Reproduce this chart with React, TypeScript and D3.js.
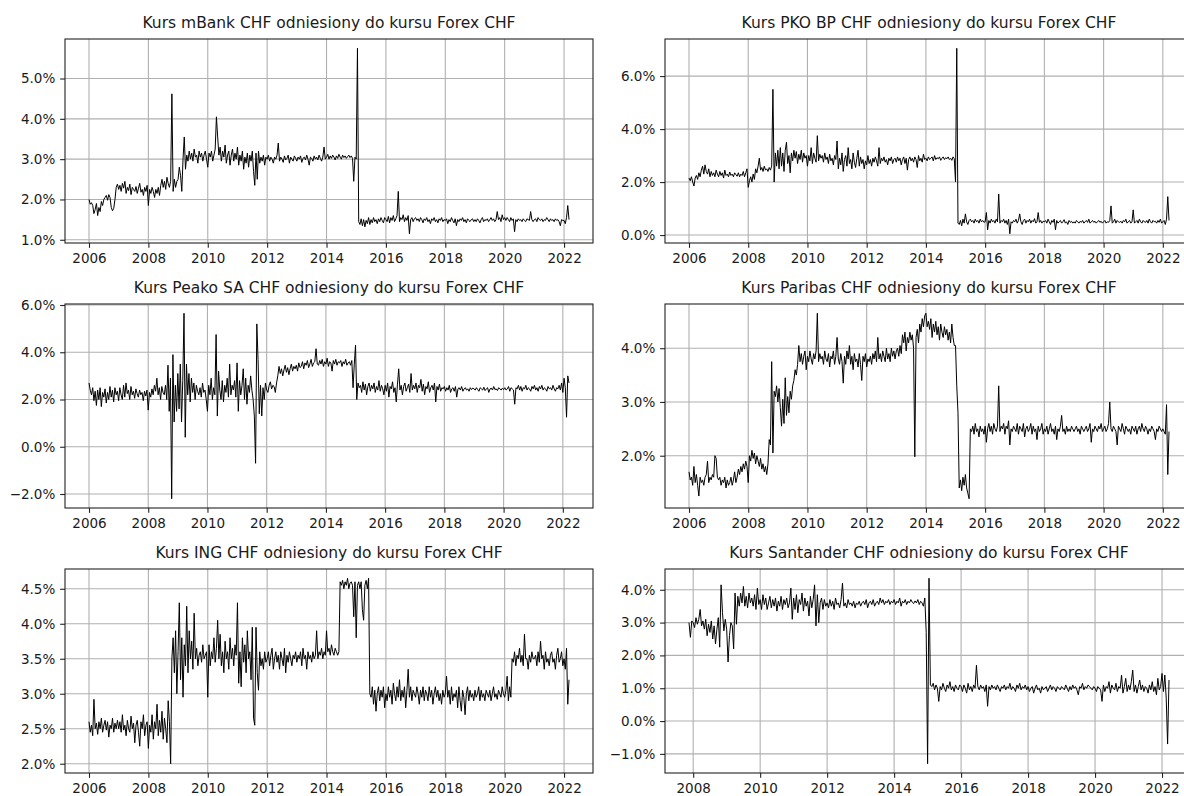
import * as d3 from 'd3';
import { useEffect, useRef } from 'react';

// all series are sampled twice a month (24 points per year)
const STEP = 1 / 24;

const mbankStart = 2006;
const mbankValues = [
  2.0, 1.88, 1.92, 1.85, 1.65, 1.75, 1.9, 1.6, 1.8, 1.7, 1.95, 1.85, 2.0, 2.05, 2.1, 1.98, 2.12, 2.05, 1.8, 1.72, 1.78, 2.0, 2.3, 2.38,
  2.25, 2.35, 2.2, 2.4, 2.28, 2.45, 2.15, 2.3, 2.22, 2.38, 2.12, 2.3, 2.25, 2.2, 2.32, 2.15, 2.28, 2.4, 2.18, 2.25, 2.1, 2.3, 2.2, 2.35,
  1.85, 2.25, 2.15, 2.3, 2.2, 2.05, 2.25, 2.15, 2.3, 2.1, 2.35, 2.5, 2.3, 2.45, 2.25, 2.55, 2.4, 2.3, 2.45, 4.62, 2.2, 2.5, 2.3, 2.45,
  2.5, 2.8, 2.6, 2.2, 3.0, 3.55, 2.75, 3.1, 2.95, 3.2, 3.0, 3.15, 2.95, 3.25, 3.05, 3.1, 2.9, 3.2, 3.05, 3.15, 2.95, 3.1, 3.2, 3.0,
  2.8, 3.15, 3.05, 3.2, 2.95, 3.1, 3.25, 4.05, 3.55, 3.1, 3.3, 2.95, 3.2, 3.05, 3.35, 2.9, 3.1, 3.2, 2.85, 3.1, 3.25, 2.95, 3.15, 3.0,
  3.3, 2.85, 3.1, 2.95, 3.2, 2.75, 3.05, 2.9, 3.15, 2.8, 3.1, 2.95, 3.2, 2.7, 2.35, 3.15, 2.5, 3.2, 2.9, 3.05, 2.95, 3.1, 2.85, 3.05,
  3.0, 3.1, 2.95, 3.05, 3.0, 2.9, 3.05, 3.0, 3.1, 3.4, 2.95, 3.05, 3.0, 2.92, 3.08, 2.98, 3.02, 3.1, 2.9, 3.05, 3.0, 2.95, 3.08, 3.02,
  2.95, 3.05, 3.0, 3.08, 2.92, 3.02, 3.05, 2.98, 3.1, 3.0, 2.85, 3.05, 3.02, 2.95, 3.08, 3.0, 3.05, 2.98, 3.1, 3.02, 2.95, 3.05, 3.3, 3.0,
  3.05, 3.12, 3.0, 3.08, 3.02, 3.1, 3.05, 2.98, 3.08, 3.02, 3.12, 3.05, 3.0, 3.1, 3.04, 3.08, 3.02, 3.06, 3.1, 3.04, 3.08, 3.02, 2.45, 3.05,
  3.0, 5.75, 1.45, 1.38, 1.52, 1.35, 1.5, 1.32, 1.48, 1.4, 1.55, 1.38, 1.5, 1.42, 1.55, 1.45, 1.5, 1.4, 1.52, 1.45, 1.55, 1.48, 1.42, 1.55,
  1.5, 1.45, 1.58, 1.42, 1.55, 1.48, 1.6, 1.45, 1.52, 1.6, 2.2, 1.45, 1.55, 1.5, 1.62, 1.45, 1.55, 1.48, 1.6, 1.15, 1.5, 1.55, 1.45, 1.52,
  1.55, 1.48, 1.52, 1.45, 1.55, 1.5, 1.42, 1.52, 1.48, 1.55, 1.45, 1.5, 1.4, 1.52, 1.48, 1.55, 1.45, 1.5, 1.42, 1.52, 1.48, 1.55, 1.45, 1.5,
  1.48, 1.52, 1.4, 1.5, 1.45, 1.55, 1.48, 1.42, 1.52, 1.35, 1.5, 1.45, 1.52, 1.48, 1.55, 1.45, 1.5, 1.42, 1.52, 1.48, 1.45, 1.5, 1.52, 1.45,
  1.5, 1.45, 1.52, 1.48, 1.42, 1.5, 1.55, 1.45, 1.5, 1.48, 1.52, 1.45, 1.5, 1.55, 1.48, 1.52, 1.45, 1.5, 1.7, 1.5, 1.55, 1.45, 1.62, 1.5,
  1.55, 1.48, 1.55, 1.5, 1.45, 1.55, 1.48, 1.52, 1.2, 1.5, 1.45, 1.52, 1.48, 1.5, 1.45, 1.52, 1.48, 1.45, 1.52, 1.5, 1.48, 1.7, 1.5, 1.45,
  1.5, 1.52, 1.45, 1.55, 1.5, 1.48, 1.52, 1.45, 1.5, 1.48, 1.55, 1.5, 1.45, 1.52, 1.48, 1.5, 1.45, 1.52, 1.48, 1.5, 1.45, 1.35, 1.5, 1.48,
  1.48, 1.4, 1.55, 1.85, 1.5,
];

const pkoStart = 2006;
const pkoValues = [
  2.15, 2.05, 2.2, 2.0, 1.85, 2.15, 2.25, 2.1, 2.35, 2.2, 2.45, 2.6, 2.3, 2.65, 2.4, 2.3, 2.5, 2.2, 2.4, 2.25, 2.35, 2.2, 2.45, 2.3,
  2.2, 2.4, 2.25, 2.35, 2.15, 2.45, 2.25, 2.3, 2.2, 2.38, 2.25, 2.3, 2.2, 2.35, 2.28, 2.22, 2.35, 2.2, 2.3, 2.25, 2.4, 2.2, 2.35, 2.5,
  1.8, 2.05, 2.2, 2.0, 2.3, 2.1, 2.5, 2.35, 2.6, 2.9, 2.45, 2.55, 2.4, 2.6, 2.45, 2.5, 2.4, 2.55, 2.45, 2.6, 5.5, 2.0, 3.1, 2.6,
  3.2, 2.5, 3.3, 2.6, 3.1, 2.4, 3.2, 3.5, 2.7, 3.0, 2.35, 3.1, 2.8, 3.2, 2.9, 3.15, 2.7, 3.05, 2.85, 3.2, 2.75, 3.1, 2.9, 3.0,
  2.6, 3.0, 2.8, 3.3, 2.7, 3.1, 2.9, 2.75, 3.75, 2.8, 3.05, 2.9, 3.0, 2.75, 3.1, 2.85, 2.95, 2.7, 3.05, 2.8, 2.9, 2.65, 3.0, 2.85,
  3.55, 2.5, 2.9, 2.65, 3.1, 2.4, 2.85, 3.0, 2.6, 3.3, 2.7, 2.85, 2.5, 3.1, 2.75, 2.55, 2.9, 3.2, 2.6, 2.95, 2.7, 2.85, 2.5, 2.8,
  2.65, 3.0, 2.7, 2.85, 2.6, 2.9, 2.75, 2.95, 2.8, 2.6, 3.3, 2.7, 2.9, 2.8, 2.95, 2.75, 2.85, 2.65, 2.9, 2.8, 2.95, 2.7, 2.85, 2.9,
  2.75, 2.95, 2.8, 2.9, 2.65, 2.85, 2.95, 2.7, 2.9, 2.45, 2.85, 2.95, 2.8, 2.9, 2.75, 2.95, 2.85, 2.55, 3.0, 2.8, 2.9, 2.75, 3.05, 2.85,
  2.9, 2.8, 2.95, 2.85, 2.9, 2.95, 2.8, 3.0, 2.85, 2.92, 2.88, 2.95, 2.82, 2.9, 2.95, 2.85, 2.92, 2.88, 2.95, 2.85, 2.9, 2.82, 2.95, 2.88,
  2.0, 7.05, 0.45, 0.4, 0.55, 0.35, 0.6, 0.45, 0.8, 0.5, 0.4, 0.55, 0.6, 0.5, 0.55, 0.45, 0.6, 0.5, 0.55, 0.45, 0.6, 0.5, 0.55, 0.48,
  0.5, 0.85, 0.2, 0.55, 0.45, 0.6, 0.5, 0.55, 0.45, 0.6, 0.5, 1.55, 0.45, 0.55, 0.5, 0.6, 0.45, 0.55, 0.4, 0.6, 0.05, 0.5, 0.45, 0.55,
  0.5, 0.6, 0.45, 0.55, 0.8, 0.5, 0.4, 0.55, 0.6, 0.45, 0.55, 0.5, 0.6, 0.45, 0.55, 0.5, 0.62, 0.45, 0.5, 0.85, 0.48, 0.55, 0.45, 0.52,
  0.5, 0.55, 0.45, 0.6, 0.5, 0.4, 0.55, 0.48, 0.6, 0.2, 0.55, 0.45, 0.5, 0.55, 0.45, 0.5, 0.58, 0.45, 0.5, 0.4, 0.55, 0.48, 0.52, 0.45,
  0.5, 0.45, 0.55, 0.5, 0.45, 0.52, 0.48, 0.55, 0.45, 0.5, 0.55, 0.48, 0.6, 0.45, 0.5, 0.55, 0.48, 0.52, 0.45, 0.5, 0.55, 0.48, 0.52, 0.45,
  0.5, 0.55, 0.45, 0.5, 0.48, 0.55, 1.1, 0.45, 0.5, 0.6, 0.45, 0.55, 0.5, 0.48, 0.52, 0.45, 0.55, 0.5, 0.6, 0.45, 0.5, 0.55, 0.45, 0.5,
  0.95, 0.45, 0.5, 0.55, 0.45, 0.6, 0.5, 0.45, 0.55, 0.5, 0.48, 0.55, 0.45, 0.6, 0.5, 0.45, 0.55, 0.5, 0.52, 0.45, 0.55, 0.48, 0.6, 0.45,
  0.5, 0.55, 0.4, 0.6, 1.45, 0.55,
];

const peakoStart = 2006;
const peakoValues = [
  2.7, 2.4, 2.2, 2.5, 1.95, 2.35, 1.75, 2.4, 2.0, 2.5, 1.7, 2.3, 2.1, 2.45, 1.85, 2.3, 2.0, 2.55, 2.1, 2.4, 1.9, 2.5, 2.2, 2.35,
  1.95, 2.5, 2.2, 2.0, 2.6, 2.1, 2.7, 2.25, 2.4, 2.0, 2.55, 2.2, 2.35, 2.05, 2.45, 2.25, 2.1, 2.4, 2.2, 2.3, 1.95, 2.35, 2.15, 2.4,
  1.55, 2.3, 2.1, 2.45, 2.2, 2.6, 2.35, 2.9, 2.2, 2.5, 2.0, 2.55, 2.3, 2.2, 2.6, 2.0, 3.45, 1.5, 2.9, -2.2, 3.9, 1.05, 2.6, 1.5,
  3.1, 1.6, 3.5, 1.05, 2.8, 5.65, 0.4, 3.5, 2.2, 3.1, 1.9, 2.9, 2.3, 2.7, 2.0, 2.6, 2.35, 2.2, 2.5, 2.1, 2.7, 2.3, 2.4, 2.0,
  1.5, 2.6, 2.2, 2.9, 2.0, 2.5, 2.2, 4.75, 1.3, 3.2, 2.4, 2.0, 2.8, 1.9, 2.6, 2.3, 2.9, 2.1, 3.5, 2.2, 2.6, 2.4, 2.8, 2.1,
  3.55, 1.5, 2.8, 2.2, 2.6, 3.3, 2.0, 2.9, 1.8, 2.6, 2.3, 3.0, 2.4, 2.0, 1.3, -0.7, 5.2, 3.7, 1.4, 2.6, 1.3, 2.5, 2.0, 2.7,
  2.4, 2.3, 2.6, 2.75, 2.45, 2.6, 2.55, 2.3, 2.7, 3.0, 3.4, 3.1, 3.3, 3.0, 3.25, 3.45, 3.15, 3.35, 3.05, 3.3, 3.5, 3.2, 3.4, 3.3,
  3.45, 3.2, 3.55, 3.35, 3.4, 3.6, 3.3, 3.55, 3.45, 3.65, 3.35, 3.5, 3.7, 3.4, 3.55, 3.6, 4.15, 3.5, 3.45, 3.65, 3.5, 3.7, 3.4, 3.6,
  3.5, 3.75, 3.4, 3.6, 3.55, 3.2, 3.65, 3.5, 3.7, 3.45, 3.6, 3.55, 3.65, 3.4, 3.6, 3.5, 3.7, 3.45, 3.55, 3.6, 3.45, 3.65, 2.5, 3.5,
  4.3, 2.0, 2.7, 2.5, 2.6, 2.3, 2.75, 2.4, 2.65, 2.2, 2.55, 2.7, 2.35, 2.6, 2.45, 2.7, 2.3, 2.55, 2.4, 2.8, 2.35, 2.6, 2.45, 2.2,
  2.6, 2.35, 2.7, 2.1, 2.55, 2.45, 2.75, 2.3, 2.5, 1.9, 2.65, 3.3, 2.4, 2.6, 2.2, 2.55, 2.7, 2.35, 2.5, 2.65, 2.3, 3.1, 2.4, 2.6,
  2.45, 2.7, 2.3, 2.6, 2.5, 2.85, 2.35, 2.65, 2.2, 2.55, 2.45, 2.75, 2.3, 2.5, 2.6, 2.4, 2.7, 1.9, 2.55, 2.4, 2.65, 2.35, 2.5, 2.45,
  2.55, 2.35, 2.5, 2.4, 2.6, 2.3, 2.45, 2.5, 2.35, 2.55, 2.1, 2.45, 2.5, 2.4, 2.55, 2.35, 2.45, 2.5, 2.4, 2.45, 2.35, 2.5, 2.42, 2.48,
  2.45, 2.4, 2.5, 2.42, 2.35, 2.5, 2.45, 2.4, 2.52, 2.38, 2.45, 2.5, 2.3, 2.45, 2.48, 2.4, 2.55, 2.42, 2.45, 2.38, 2.5, 2.45, 2.4, 2.48,
  2.42, 2.5, 2.4, 2.45, 2.55, 2.35, 2.5, 2.45, 2.4, 1.8, 2.5, 2.45, 2.6, 2.4, 2.55, 2.35, 2.5, 2.45, 2.6, 2.4, 2.5, 2.45, 2.35, 2.55,
  2.45, 2.6, 2.4, 2.5, 2.35, 2.55, 2.45, 2.6, 2.4, 2.5, 2.45, 2.35, 2.55, 2.45, 2.5, 2.4, 2.6, 2.45, 2.35, 2.5, 2.45, 2.6, 2.4, 2.7,
  2.3, 2.9, 2.5, 1.25, 3.0, 2.7,
];

const paribasStart = 2006;
const paribasValues = [
  1.7, 1.55, 1.6, 1.45, 1.8, 1.5, 1.65, 1.45, 1.25, 1.6, 1.5, 1.55, 1.45, 1.6, 1.65, 1.9, 1.5, 1.6, 1.55, 1.65, 1.6, 2.0, 1.95, 1.6,
  1.55, 1.6, 1.45, 1.55, 1.5, 1.6, 1.4, 1.55, 1.45, 1.5, 1.6, 1.45, 1.55, 1.7, 1.5, 1.6, 1.75, 1.65, 1.8, 1.7, 1.85, 1.75, 1.9, 1.8,
  1.5, 2.0, 1.9, 2.1, 1.95, 2.05, 1.85, 2.0, 1.9, 1.8, 1.95, 1.75, 1.85, 1.7, 1.8, 1.65, 1.85, 2.3, 2.2, 3.75, 2.05, 3.2, 3.1, 3.3,
  3.0, 3.25, 2.9, 2.55, 3.05, 2.6, 3.45, 2.75, 3.1, 2.8, 3.2, 3.05, 3.3, 3.4, 3.6, 3.5, 3.7, 4.05, 3.75, 3.9, 3.7, 3.85, 3.95, 3.6,
  3.85, 3.75, 3.95, 3.8, 3.7, 3.9, 3.8, 3.95, 4.65, 3.75, 3.9, 3.8, 3.85, 3.7, 3.95, 3.8, 3.75, 3.9, 3.65, 3.85, 3.8, 3.95, 3.7, 3.85,
  4.2, 3.8, 3.7, 3.9, 3.75, 3.35, 3.85, 3.7, 3.95, 3.8, 4.05, 3.7, 3.85, 3.6, 3.9, 3.75, 3.8, 3.65, 3.9, 3.7, 3.4, 3.85, 3.75, 3.9,
  3.65, 3.8, 3.75, 3.85, 3.7, 3.9, 3.8, 3.95, 3.75, 4.2, 3.8, 3.9, 3.75, 3.95, 3.85, 3.75, 4.0, 3.8, 3.9, 3.75, 4.0, 3.85, 3.95, 3.8,
  3.95, 4.0, 3.85, 4.05, 3.9, 4.25, 4.1, 4.3, 3.95, 4.2, 4.1, 4.3, 4.15, 4.25, 4.0, 1.98, 4.2, 4.35, 4.1, 4.45, 4.3, 4.55, 4.4, 4.6,
  4.65, 4.4, 4.5, 4.35, 4.55, 4.2, 4.45, 4.3, 4.5, 4.25, 4.4, 4.15, 4.45, 4.3, 4.2, 4.4, 4.25, 4.35, 4.15, 4.3, 4.1, 4.45, 4.2, 4.05,
  4.05, 3.3, 2.8, 1.4, 1.55, 1.35, 1.6, 1.45, 1.65, 1.4, 1.3, 1.2, 2.5, 2.45, 2.55, 2.4, 2.6, 2.45, 2.5, 2.35, 2.55, 2.45, 2.5, 2.4,
  2.55, 2.25, 2.5, 2.6, 2.45, 2.55, 2.4, 2.6, 2.5, 2.45, 2.55, 3.3, 2.45, 2.55, 2.5, 2.6, 2.4, 2.55, 2.5, 2.65, 2.2, 2.5, 2.45, 2.55,
  2.5, 2.45, 2.6, 2.4, 2.55, 2.5, 2.45, 2.6, 2.35, 2.5, 2.55, 2.45, 2.5, 2.6, 2.4, 2.55, 2.45, 2.5, 2.3, 2.55, 2.45, 2.5, 2.6, 2.4,
  2.5, 2.45, 2.55, 2.4, 2.5, 2.6, 2.45, 2.5, 2.4, 2.55, 2.3, 2.5, 2.45, 2.55, 2.75, 2.45, 2.5, 2.4, 2.55, 2.45, 2.5, 2.45, 2.55, 2.5,
  2.45, 2.5, 2.55, 2.45, 2.5, 2.4, 2.55, 2.5, 2.45, 2.5, 2.55, 2.45, 2.5, 2.6, 2.25, 2.5, 2.45, 2.55, 2.5, 2.45, 2.55, 2.5, 2.6, 2.45,
  2.5, 2.55, 2.45, 2.5, 2.6, 3.0, 2.5, 2.45, 2.55, 2.5, 2.45, 2.2, 2.55, 2.5, 2.45, 2.6, 2.5, 2.4, 2.55, 2.5, 2.45, 2.5, 2.4, 2.55,
  2.5, 2.45, 2.55, 2.4, 2.5, 2.55, 2.45, 2.6, 2.5, 2.45, 2.55, 2.5, 2.4, 2.5, 2.45, 2.55, 2.5, 2.45, 2.3, 2.5, 2.45, 2.55, 2.5, 2.45,
  2.5, 2.45, 2.4, 2.95, 1.65, 2.45,
];

const ingStart = 2006;
const ingValues = [
  2.6, 2.45, 2.55, 2.4, 2.92, 2.5, 2.58, 2.42, 2.6, 2.5, 2.65, 2.45, 2.55, 2.62, 2.48, 2.6, 2.38, 2.55, 2.5, 2.65, 2.45, 2.58, 2.5, 2.62,
  2.5, 2.6, 2.45, 2.7, 2.48, 2.55, 2.4, 2.62, 2.5, 2.45, 2.68, 2.5, 2.58, 2.3, 2.55, 2.62, 2.45, 2.25, 2.6, 2.5, 2.7, 2.4, 2.55, 2.6,
  2.22, 2.55, 2.45, 2.7, 2.35, 2.6, 2.5, 2.85, 2.4, 2.62, 2.45, 2.75, 2.35, 2.65, 2.5, 2.3, 2.9, 2.6, 2.0, 3.5, 3.8, 3.3, 3.9, 3.0,
  3.6, 4.3, 3.2, 3.8, 2.95, 3.7, 3.4, 4.25, 3.3, 3.9, 3.5, 3.75, 3.35, 4.15, 3.5, 3.65, 3.4, 3.55, 3.6, 3.45, 3.7, 3.5, 3.55, 3.6,
  2.95, 3.7, 3.4, 3.6, 3.5, 3.8, 3.45, 3.65, 4.05, 3.5, 3.85, 3.4, 3.6, 3.3, 3.75, 3.5, 3.6, 3.35, 3.8, 3.5, 3.65, 3.4, 3.7, 3.55,
  4.3, 3.15, 3.6, 3.1, 3.8, 3.45, 3.7, 3.3, 3.9, 3.5, 3.6, 3.2, 3.95, 2.65, 2.55, 3.95, 3.3, 3.05, 3.6, 3.4, 3.5, 3.35, 3.6, 3.45,
  3.5, 3.6, 3.4, 3.55, 3.65, 3.35, 3.5, 3.6, 3.45, 3.55, 3.35, 3.6, 3.5, 3.4, 3.65, 3.3, 3.55, 3.45, 3.6, 3.5, 3.4, 3.55, 3.5, 3.6,
  3.45, 3.55, 3.5, 3.6, 3.4, 3.65, 3.5, 3.55, 3.35, 3.6, 3.5, 3.55, 3.45, 3.6, 3.5, 3.55, 3.9, 3.5, 3.6, 3.55, 3.65, 3.5, 3.6, 3.55,
  3.9, 3.6, 3.65, 3.55, 3.7, 3.6, 3.55, 3.65, 3.6, 3.55, 3.6, 4.6, 4.55, 4.62, 4.5, 4.6, 4.55, 4.65, 4.5, 4.58, 4.6, 4.55, 4.1, 4.6,
  3.8, 4.55, 4.6, 4.5, 4.6, 4.2, 4.05, 4.55, 4.62, 4.5, 4.65, 3.0, 2.95, 3.1, 2.85, 3.05, 2.75, 3.0, 3.1, 2.9, 3.05, 2.95, 3.1, 2.8,
  3.0, 2.9, 3.1, 2.95, 3.05, 2.85, 3.15, 3.0, 2.9, 3.1, 2.95, 3.2, 2.9, 3.05, 2.95, 3.1, 2.8, 3.05, 3.35, 2.95, 3.1, 2.9, 3.05, 3.0,
  2.95, 3.1, 3.0, 2.85, 3.05, 2.95, 3.1, 2.9, 3.05, 3.0, 2.9, 3.1, 2.95, 3.05, 2.85, 3.0, 3.1, 2.95, 3.05, 2.9, 3.0, 2.85, 3.05, 2.95,
  3.0, 3.25, 2.95, 3.05, 2.85, 3.1, 2.9, 3.0, 2.95, 3.05, 2.8, 3.1, 2.9, 2.75, 3.05, 2.95, 2.7, 3.0, 3.1, 2.9, 3.05, 2.95, 3.0, 2.9,
  3.05, 2.95, 3.0, 3.1, 2.9, 3.05, 2.95, 3.0, 2.9, 3.05, 3.0, 2.95, 3.05, 2.9, 3.0, 3.1, 2.95, 3.0, 2.92, 3.05, 3.0, 2.95, 3.1, 3.0,
  2.95, 3.05, 3.25, 2.9, 3.1, 2.95, 3.5, 3.45, 3.6, 3.4, 3.55, 3.5, 3.65, 3.45, 3.55, 3.4, 3.85, 3.5, 3.5, 3.35, 3.55, 3.45, 3.6, 3.5,
  3.5, 3.55, 3.4, 3.6, 3.45, 3.75, 3.5, 3.55, 3.35, 3.6, 3.45, 3.5, 3.4, 3.55, 3.6, 3.45, 3.5, 3.35, 3.55, 3.65, 3.45, 3.5, 3.6, 3.4,
  3.5, 3.35, 3.65, 2.85, 3.2,
];

const santanderStart = 2007 + 21 / 24;
const santanderValues = [
  3.0, 2.55, 3.05,
  3.0, 2.85, 3.15, 2.95, 3.1, 3.4, 2.9, 3.05, 2.8, 3.1, 2.6, 2.95, 2.7, 3.05, 2.5, 2.9, 2.35, 2.8, 3.15, 2.25, 4.15, 3.3, 2.75, 3.1,
  2.8, 1.8, 2.6, 3.0, 2.9, 2.2, 3.9, 2.95, 3.8, 3.5, 3.9, 3.6, 4.1, 3.5, 3.8, 3.45, 3.9, 3.6, 3.75, 3.5, 3.85, 3.4, 4.05, 3.55,
  3.7, 3.4, 3.85, 3.55, 3.75, 3.4, 3.6, 3.8, 3.45, 3.7, 3.5, 3.75, 3.35, 3.65, 3.5, 3.8, 3.4, 3.7, 3.55, 3.75, 3.45, 3.6, 4.05, 3.1,
  3.75, 3.4, 3.85, 3.3, 3.7, 3.55, 3.9, 3.35, 3.75, 3.5, 3.65, 3.2, 3.8, 3.45, 3.7, 4.15, 2.9, 3.85, 3.0, 3.6, 3.75, 3.4, 3.7, 3.5,
  3.6, 3.45, 3.7, 3.5, 3.65, 3.4, 3.75, 3.55, 3.6, 3.45, 3.7, 4.2, 3.5, 3.6, 3.45, 3.7, 3.55, 3.6, 3.5, 3.65, 3.45, 3.6, 3.55, 3.65,
  3.5, 3.6, 3.65, 3.55, 3.7, 3.45, 3.6, 3.65, 3.55, 3.7, 3.5, 3.6, 3.65, 3.55, 3.75, 3.6, 3.7, 3.55, 3.65, 3.6, 3.7, 3.55, 3.65, 3.6,
  3.7, 3.55, 3.65, 3.6, 3.75, 3.5, 3.65, 3.6, 3.7, 3.55, 3.65, 3.6, 3.7, 3.62, 3.58, 3.66, 3.6, 3.7, 3.55, 3.65, 3.6, 3.5, 3.75, 2.7,
  -1.3, 4.35, 1.1, 1.05, 1.15, 0.95, 1.1, 1.0, 0.6, 1.05, 0.95, 1.15, 1.0, 0.9, 1.1, 1.0, 1.2, 0.95, 1.05, 0.9, 1.1, 1.0, 0.95, 1.1,
  1.05, 0.9, 1.1, 1.0, 0.85, 1.15, 0.95, 1.05, 0.9, 1.1, 1.0, 1.7, 1.05, 0.95, 1.1, 1.0, 1.05, 0.9, 1.1, 0.45, 1.05, 0.95, 1.1, 1.0,
  1.05, 0.95, 1.1, 1.0, 0.9, 1.05, 1.0, 1.1, 0.95, 1.05, 1.0, 1.15, 0.95, 1.05, 1.0, 0.9, 1.1, 1.0, 1.15, 0.95, 1.05, 1.0, 1.1, 0.95,
  1.05, 0.9, 1.0, 1.05, 0.85, 1.0, 1.1, 0.95, 1.0, 0.85, 1.05, 0.95, 1.0, 1.05, 0.9, 1.0, 1.1, 0.95, 1.05, 1.0, 0.9, 1.05, 1.0, 0.95,
  1.05, 1.0, 0.95, 1.1, 1.0, 0.9, 1.05, 0.95, 1.1, 1.0, 1.05, 0.95, 0.8, 1.05, 1.0, 1.15, 0.95, 1.05, 1.0, 1.1, 1.05, 1.0, 0.95, 1.05,
  1.0, 0.9, 1.05, 1.0, 0.95, 0.6, 1.1, 0.9, 1.05, 1.0, 1.2, 0.85, 1.1, 1.0, 0.95, 1.15, 0.9, 1.05, 1.0, 1.4, 0.85, 1.05, 1.3, 0.9,
  1.1, 0.95, 1.2, 1.55, 0.9, 1.1, 0.85, 1.05, 1.25, 0.95, 1.1, 0.9, 1.05, 1.0, 0.85, 1.1, 0.95, 1.2, 0.9, 1.05, 0.8, 1.3, 0.95, 1.05,
  1.45, 0.9, 1.4, 0.7, -0.7, 1.25,
];

const yearTicks = [2006, 2008, 2010, 2012, 2014, 2016, 2018, 2020, 2022];
const santanderYearTicks = [2008, 2010, 2012, 2014, 2016, 2018, 2020, 2022];

const mbankTicks = [1, 2, 3, 4, 5];
const pkoTicks = [0, 2, 4, 6];
const peakoTicks = [-2, 0, 2, 4, 6];
const paribasTicks = [2, 3, 4];
const ingTicks = [2, 2.5, 3, 3.5, 4, 4.5];
const santanderTicks = [-1, 0, 1, 2, 3, 4];

const titles = [
  'Kurs mBank CHF odniesiony do kursu Forex CHF',
  'Kurs PKO BP CHF odniesiony do kursu Forex CHF',
  'Kurs Peako SA CHF odniesiony do kursu Forex CHF',
  'Kurs Paribas CHF odniesiony do kursu Forex CHF',
  'Kurs ING CHF odniesiony do kursu Forex CHF',
  'Kurs Santander CHF odniesiony do kursu Forex CHF',
];

const panels = [
  { title: titles[0], start: mbankStart, values: mbankValues, xTicks: yearTicks, yTicks: mbankTicks },
  { title: titles[1], start: pkoStart, values: pkoValues, xTicks: yearTicks, yTicks: pkoTicks },
  { title: titles[2], start: peakoStart, values: peakoValues, xTicks: yearTicks, yTicks: peakoTicks },
  { title: titles[3], start: paribasStart, values: paribasValues, xTicks: yearTicks, yTicks: paribasTicks },
  { title: titles[4], start: ingStart, values: ingValues, xTicks: yearTicks, yTicks: ingTicks },
  { title: titles[5], start: santanderStart, values: santanderValues, xTicks: santanderYearTicks, yTicks: santanderTicks },
];

const FONT = 'DejaVu Sans';
const TEXT_COLOR = '#1a1a1a';

export default function App() {
  const svgRef = useRef<SVGSVGElement | null>(null);

  useEffect(() => {
    if (!svgRef.current) return;
    const svg = d3.select(svgRef.current);
    svg.selectAll('*').remove();

    const colX = [65, 665];
    const rowY = [39, 304, 569];
    const plotW = 528;
    const plotH = 204;
    const tick = 4.86;

    panels.forEach((p, idx) => {
      const pts: [number, number][] = p.values.map((v, i) => [p.start + i * STEP, v]);
      const [x0, x1] = d3.extent(pts, (d) => d[0]) as [number, number];
      const [y0, y1] = d3.extent(pts, (d) => d[1]) as [number, number];
      const mx = (x1 - x0) * 0.05;
      const my = (y1 - y0) * 0.05;

      const x = d3.scaleLinear().domain([x0 - mx, x1 + mx]).range([0, plotW]);
      const y = d3.scaleLinear().domain([y0 - my, y1 + my]).range([plotH, 0]);

      const g = svg
        .append('g')
        .attr('transform', `translate(${colX[idx % 2]},${rowY[Math.floor(idx / 2)]})`);

      // grid
      g.append('g')
        .selectAll('line')
        .data(p.xTicks)
        .join('line')
        .attr('x1', (d) => x(d))
        .attr('x2', (d) => x(d))
        .attr('y1', 0)
        .attr('y2', plotH)
        .attr('stroke', '#b0b0b0')
        .attr('stroke-width', 1.1);
      g.append('g')
        .selectAll('line')
        .data(p.yTicks)
        .join('line')
        .attr('x1', 0)
        .attr('x2', plotW)
        .attr('y1', (d) => y(d))
        .attr('y2', (d) => y(d))
        .attr('stroke', '#b0b0b0')
        .attr('stroke-width', 1.1);

      const line = d3
        .line<[number, number]>()
        .x((d) => x(d[0]))
        .y((d) => y(d[1]));

      g.append('path')
        .datum(pts)
        .attr('d', line)
        .attr('fill', 'none')
        .attr('stroke', '#000')
        .attr('stroke-width', 1);

      g.append('rect')
        .attr('width', plotW)
        .attr('height', plotH)
        .attr('fill', 'none')
        .attr('stroke', '#222')
        .attr('stroke-width', 1.1);

      const xAxis = d3
        .axisBottom(x)
        .tickValues(p.xTicks)
        .tickFormat(d3.format('d') as any)
        .tickSize(tick)
        .tickSizeOuter(0)
        .tickPadding(6);
      const yAxis = d3
        .axisLeft(y)
        .tickValues(p.yTicks)
        .tickFormat((d) => `${d3.format('.1f')(d as number)}%`)
        .tickSize(tick)
        .tickSizeOuter(0)
        .tickPadding(4.86);

      const xg = g.append('g').attr('transform', `translate(0,${plotH})`).call(xAxis);
      const yg = g.append('g').call(yAxis);
      [xg, yg].forEach((ag) => {
        ag.select('.domain').remove();
        ag.selectAll('line').attr('stroke', '#222').attr('stroke-width', 1.1);
        ag.selectAll('text')
          .attr('font-family', FONT)
          .attr('font-size', '13.5px')
          .attr('fill', TEXT_COLOR);
      });

      g.append('text')
        .attr('x', plotW / 2)
        .attr('y', -11)
        .attr('text-anchor', 'middle')
        .attr('font-family', FONT)
        .attr('font-size', '15.5px')
        .attr('fill', TEXT_COLOR)
        .text(p.title);
    });
  }, []);

  return (
    <svg
      ref={svgRef}
      width={1184}
      height={796}
      style={{ position: 'absolute', left: 0, top: 0, background: '#fff' }}
    ></svg>
  );
}
